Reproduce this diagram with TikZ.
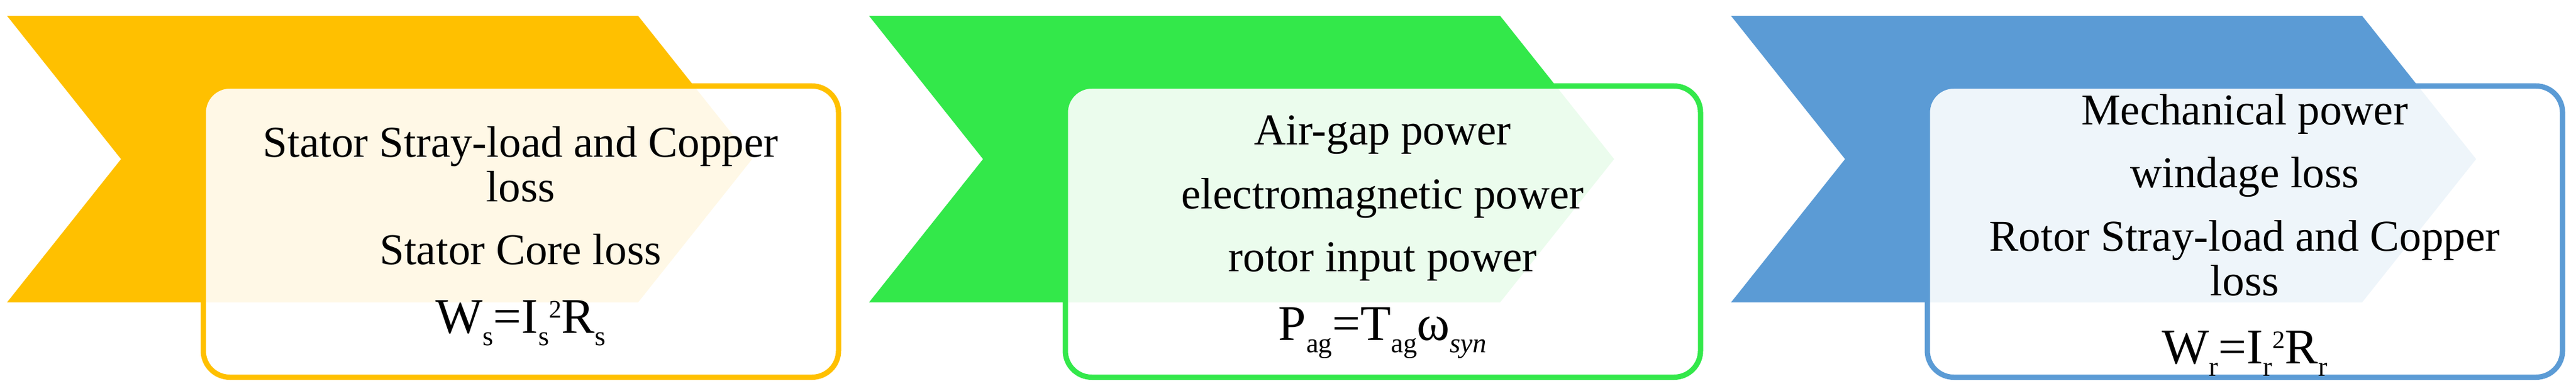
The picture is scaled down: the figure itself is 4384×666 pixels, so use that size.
\documentclass[tikz,border=0pt]{standalone}
\usepackage{fontspec}
\setmainfont{Liberation Serif}
\newfontfamily\tnr{Liberation Serif}
\definecolor{cyellow}{HTML}{FFC000}
\definecolor{cgreen}{HTML}{33E84A}
\definecolor{cblue}{HTML}{5B9BD5}
\newcommand{\txtsize}{\tnr\fontsize{75}{76}\selectfont}
\newcommand{\eqsize}{\tnr\fontsize{85}{86}\selectfont}
\newcommand{\subx}[1]{\raisebox{-21pt}{\tnr\fontsize{47}{47}\selectfont #1}}
\newcommand{\supx}[1]{\raisebox{26pt}{\tnr\fontsize{43}{43}\selectfont #1}}
\tikzset{
  boxpanel/.style={draw=#1, line width=9pt, fill=white, fill opacity=0.9, draw opacity=1,
     rounded corners=45pt, minimum width=1081pt, minimum height=496pt, inner sep=0pt},
  linetxt/.style={anchor=base, inner sep=0pt, font=\txtsize},
  eqtxt/.style={anchor=base, inner sep=0pt, font=\eqsize}
}
\begin{document}
\begin{tikzpicture}[x=1pt,y=-1pt]
\useasboundingbox (0,0) rectangle (4384,666);
% chevrons
\foreach \X/\c in {12/cyellow,1479/cgreen,2946/cblue}{
  \fill[\c] (\X,27) -- ({\X+1074},27) -- ({\X+1268},271) -- ({\X+1074},515) -- (\X,515) -- ({\X+194},271) -- cycle;
}
% boxes
\node[boxpanel=cyellow] (b1) at (886.5,394.5) {};
\node[boxpanel=cgreen] (b2) at (2353.5,394.5) {};
\node[boxpanel=cblue] (b3) at (3820.5,394.5) {};
% texts box 1
\node[linetxt] (t11) at (886,267) {Stator Stray-load and Copper};
\node[linetxt] (t12) at (886,343) {loss};
\node[linetxt] (t13) at (886,450) {Stator Core loss};
\node[eqtxt] (t14) at (886,567) {W\subx{s}=I\subx{s}\supx{2}R\subx{s}};
% texts box 2
\node[linetxt] (t21) at (2353,246) {Air-gap power};
\node[linetxt] (t22) at (2353,355) {electromagnetic power};
\node[linetxt] (t23) at (2353,462) {rotor input power};
\node[eqtxt] (t24) at (2353,579) {P\subx{ag}=T\subx{ag}ω\subx{\itshape syn}};
% texts box 3
\node[linetxt] (t31) at (3820,212) {Mechanical power};
\node[linetxt] (t32) at (3820,319) {windage loss};
\node[linetxt] (t33) at (3820,427) {Rotor Stray-load and Copper};
\node[linetxt] (t34) at (3820,503) {loss};
\node[eqtxt] (t35) at (3820,619) {W\subx{r}=I\subx{r}\supx{2}R\subx{r}};
\end{tikzpicture}
\end{document}
